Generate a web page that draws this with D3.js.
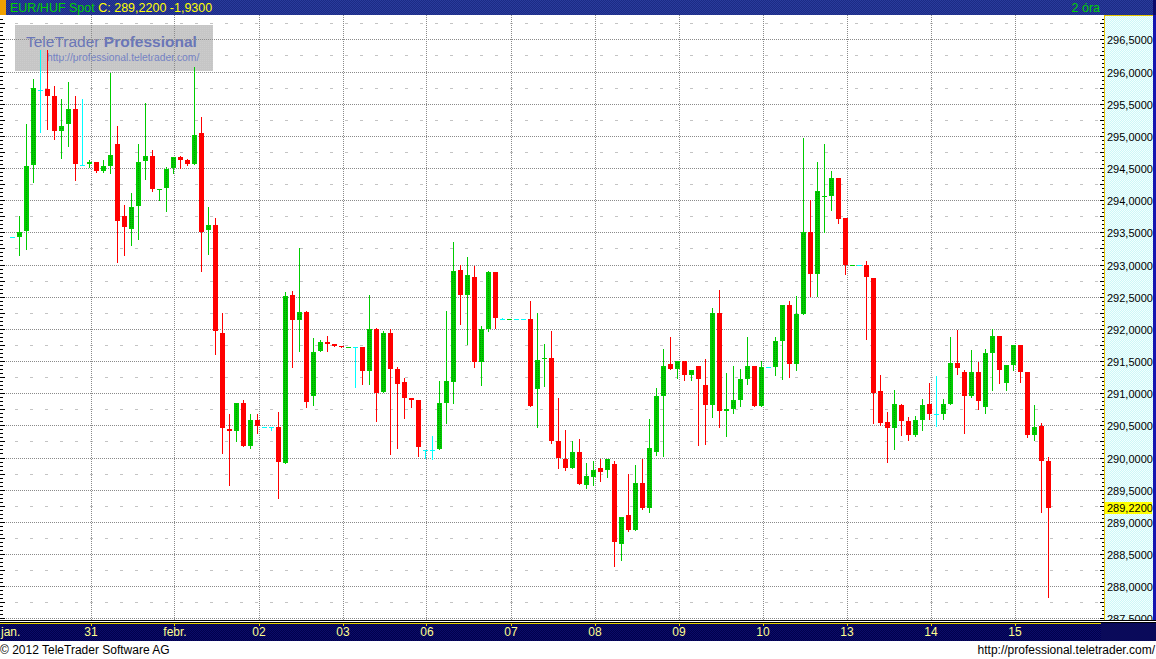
<!DOCTYPE html>
<html><head><meta charset="utf-8">
<script src="https://cdn.jsdelivr.net/npm/d3@7"></script>
<style>body{margin:0;background:#fff;overflow:hidden}svg{display:block}</style>
</head><body>
<svg id="c" width="1156" height="659"></svg>
<script>
// ---- data (2-hour candles, EUR/HUF) ----
const openP = [293.42,293.43,293.52,294.55,295.72,295.73,295.62,295.08,295.19,295.41,294.55,294.56,294.59,294.45,294.53,294.87,293.76,293.55,293.91,294.61,294.68,294.17,294.19,294.50,294.67,294.62,294.56,295.04,293.54,293.62,
291.94,290.45,290.41,290.84,290.18,290.59,290.48,290.48,290.48,289.91,292.53,292.13,292.26,290.95,291.65,291.80,291.77,291.74,291.71,291.72,291.72,291.35,291.99,291.02,291.94,291.38,291.18,290.93,290.90,290.12,
290.12,290.13,290.84,291.18,292.92,292.52,292.80,291.49,291.99,292.89,292.15,292.15,292.15,292.15,292.16,291.06,291.53,291.54,290.25,289.97,289.83,290.09,289.58,289.69,289.83,289.80,289.90,288.65,289.10,288.88,
289.61,289.22,290.08,290.95,291.46,291.37,291.50,291.28,291.42,291.12,290.81,292.24,290.73,290.75,290.89,291.22,291.42,290.80,291.40,291.40,291.81,292.37,291.45,292.23,293.51,292.85,294.06,294.07,294.35,293.73,
292.99,293.00,293.00,292.79,291.03,290.55,290.46,290.82,290.57,290.35,290.58,290.83,290.67,290.68,290.83,291.47,291.33,290.96,291.33,290.78,291.62,291.89,291.16,291.44,291.75,291.33,290.35,290.49,289.95];
const highP = [293.42,293.75,295.18,295.88,296.33,296.33,295.77,295.57,295.83,295.62,295.57,294.62,294.60,294.62,295.98,295.16,293.92,294.11,294.87,295.51,294.78,294.18,294.51,294.67,294.69,294.64,296.07,295.29,293.90,293.72,
292.25,290.68,290.84,290.90,290.67,290.67,290.48,290.48,290.70,292.58,292.59,293.26,292.28,291.85,291.83,291.89,291.77,291.74,291.72,291.72,291.72,292.53,292.02,291.97,291.99,291.40,291.24,290.93,290.90,290.12,
290.33,291.19,292.27,293.35,293.00,293.11,292.97,292.05,292.90,292.89,292.17,292.16,292.15,292.15,292.44,292.25,291.77,291.97,290.93,290.42,290.25,290.28,289.92,289.95,289.97,289.97,289.94,289.08,289.75,289.89,
289.97,290.60,291.08,291.68,291.88,291.50,291.50,291.36,291.42,291.53,292.33,292.60,291.31,291.43,291.37,291.87,291.43,291.50,291.40,291.87,292.37,292.44,292.51,294.97,294.00,294.59,294.88,294.46,294.35,293.73,
293.00,293.00,293.05,292.79,291.28,290.71,291.05,290.83,290.63,290.64,290.91,291.16,291.27,290.91,291.87,291.98,291.36,291.67,291.48,291.69,292.00,291.89,291.44,291.75,291.75,291.33,290.82,290.54,290.01];
const lowP = [293.42,293.14,293.24,294.28,295.06,295.10,294.95,294.66,294.84,294.31,294.55,294.51,294.44,294.44,294.42,293.04,293.14,293.30,293.40,294.33,294.14,294.01,293.83,294.42,294.50,294.54,294.56,292.90,293.16,291.61,
290.07,289.57,290.25,290.18,290.14,290.38,290.48,290.43,289.37,289.91,291.40,291.66,290.78,290.81,291.65,291.65,291.74,291.71,291.71,291.09,291.15,291.15,290.56,291.02,290.05,290.14,290.62,290.79,290.02,289.99,
289.97,290.13,290.54,290.84,292.08,291.77,291.40,291.13,291.96,292.02,292.15,292.15,292.15,292.15,290.80,290.48,291.11,290.23,289.83,289.80,289.83,289.59,289.53,289.58,289.64,289.69,288.32,288.40,288.85,288.88,
289.20,289.15,290.04,290.02,291.37,291.23,291.20,291.20,290.19,290.21,290.63,290.47,290.33,290.69,290.80,291.15,290.80,290.80,291.40,291.29,291.22,291.25,291.36,292.23,292.51,292.51,293.51,293.84,293.65,292.86,
292.99,293.00,291.84,290.54,290.51,289.93,290.13,290.35,290.27,290.33,290.43,290.60,290.49,290.60,290.83,291.30,290.38,290.94,290.75,290.69,291.05,291.16,291.05,291.36,291.17,290.32,290.27,289.15,287.83];
const closeP = [293.42,293.51,294.53,295.74,295.72,295.62,295.08,295.15,295.41,294.56,294.55,294.59,294.45,294.53,294.70,293.68,293.58,293.90,294.60,294.68,294.17,294.18,294.48,294.67,294.63,294.56,295.01,293.51,293.61,291.96,
290.46,290.41,290.84,290.18,290.59,290.49,290.48,290.48,289.93,292.51,292.13,292.26,290.87,291.64,291.80,291.77,291.74,291.71,291.72,291.72,291.35,291.99,291.01,291.94,291.38,291.15,290.93,290.90,290.16,290.12,
290.12,290.84,291.19,292.90,292.52,292.84,291.49,291.99,292.89,292.17,292.15,292.16,292.15,292.15,290.80,291.51,291.55,290.26,290.00,289.83,290.09,289.59,289.72,289.81,289.78,289.97,288.68,289.08,288.88,289.61,
289.22,290.15,290.95,291.43,291.37,291.50,291.28,291.36,291.22,290.81,292.24,290.73,290.75,290.89,291.22,291.42,290.80,291.40,291.40,291.81,292.37,291.45,292.23,293.51,292.85,294.15,294.07,294.35,293.70,292.99,
293.00,293.00,292.80,291.00,290.54,290.46,290.83,290.57,290.35,290.58,290.82,290.68,290.67,290.83,291.47,291.39,290.96,291.33,290.88,291.62,291.89,291.36,291.44,291.75,291.33,290.35,290.47,289.95,289.22];
const dayTickIndex = [-1, 11, 23, 35, 47, 59, 71, 83, 95, 107, 119, 131, 143];
const dayLabels = ["jan.","31","febr.","02","03","06","07","08","09","10","13","14","15"];
const yTicks = [287.5,288,288.5,289,289.5,290,290.5,291,291.5,292,292.5,293,293.5,294,294.5,295,295.5,296,296.5];
const lastPrice = 289.22;
const titleText = "EUR/HUF Spot";
const quoteText = "C: 289,2200 -1,9300";
const periodText = "2 óra";

// ---- layout ----
const W = 1156, H = 659;
const plotL = 0, plotR = 1101, plotT = 15, plotB = 620;
const axL = 1104, axR = 1153;
const svg = d3.select("#c");
const FONT = "'Liberation Sans', Arial, sans-serif";

const x = d3.scaleLinear().domain([0, 148]).range([12.5, 1048.5]);
const y = d3.scaleLinear().domain([290, 296]).range([457.5, 71.5]);
const loc = d3.formatLocale({decimal: ",", thousands: ".", grouping: [3], currency: ["", ""]});
const fmt = loc.format(".4f");

// ---- defs ----
const defs = svg.append("defs");
function checker(id, a, b) {
  const p = defs.append("pattern").attr("id", id).attr("patternUnits", "userSpaceOnUse").attr("width", 2).attr("height", 2);
  p.append("rect").attr("width", 2).attr("height", 2).attr("fill", a);
  p.append("rect").attr("width", 1).attr("height", 1).attr("fill", b);
  p.append("rect").attr("x", 1).attr("y", 1).attr("width", 1).attr("height", 1).attr("fill", b);
}
checker("navyTop", "#1b2b84", "#2a3b9c");
checker("navyBot", "#00004c", "#0c0c68");
checker("cyanAx", "#cdf7f7", "#f2ffff");
{
  const p = defs.append("pattern").attr("id", "greenDot").attr("patternUnits", "userSpaceOnUse").attr("width", 2).attr("height", 2);
  p.append("rect").attr("width", 2).attr("height", 2).attr("fill", "#00cc00");
  p.append("rect").attr("width", 1).attr("height", 1).attr("fill", "#009a00");
}
{
  const p = defs.append("pattern").attr("id", "logoPat").attr("patternUnits", "userSpaceOnUse").attr("width", 2).attr("height", 2);
  p.append("rect").attr("width", 2).attr("height", 2).attr("fill", "#c6c6c6");
  p.append("rect").attr("width", 1).attr("height", 1).attr("fill", "#cccccc");
}

// ---- backgrounds ----
svg.append("rect").attr("x", 0).attr("y", 0).attr("width", W).attr("height", H).attr("fill", "#ffffff");
svg.append("rect").attr("x", 0).attr("y", 0).attr("width", W).attr("height", 15).attr("fill", "url(#navyTop)");
svg.append("rect").attr("x", 0).attr("y", 0).attr("width", 6).attr("height", 15).attr("fill", "#f0a000");
svg.append("rect").attr("x", 1153).attr("y", 0).attr("width", 3).attr("height", 15).attr("fill", "#0a0a6a");

const header = svg.append("text").attr("x", 10).attr("y", 12).attr("font-family", FONT).attr("font-size", 12.5);
header.append("tspan").attr("fill", "#00d000").text(titleText + " ");
header.append("tspan").attr("fill", "#ffff00").text(quoteText);
svg.append("text").attr("x", 1100).attr("y", 12).attr("text-anchor", "end").attr("font-family", FONT)
  .attr("font-size", 12.5).attr("fill", "#00d000").text(periodText);

// logo
const logo = svg.append("g");
logo.append("rect").attr("x", 15).attr("y", 25).attr("width", 198).attr("height", 46).attr("fill", "url(#logoPat)");
const lt = logo.append("text").attr("x", 26).attr("y", 47).attr("font-family", FONT).attr("font-size", 15.5).attr("fill", "#6a76b8");
lt.append("tspan").text("TeleTrader ");
lt.append("tspan").attr("font-weight", "bold").text("Professional");
logo.append("text").attr("x", 47).attr("y", 61).attr("font-family", FONT).attr("font-size", 10.3).attr("fill", "#7482c4")
  .text("http://professional.teletrader.com/");

// ---- grid ----
const grid = svg.append("g").attr("shape-rendering", "crispEdges");
const minorVals = yTicks.map(v => v + 0.25).concat([287.25]).filter(v => y(v) > plotT && y(v) < plotB);
grid.selectAll("line.minor").data(minorVals).join("line")
  .attr("x1", plotL).attr("x2", plotR).attr("y1", d => Math.round(y(d)) + 0.5).attr("y2", d => Math.round(y(d)) + 0.5)
  .attr("stroke", "#c4c4c4").attr("stroke-dasharray", "3,12");
grid.selectAll("line.major").data(yTicks).join("line")
  .attr("x1", plotL).attr("x2", plotR).attr("y1", d => Math.round(y(d)) + 0.5).attr("y2", d => Math.round(y(d)) + 0.5)
  .attr("stroke", "#8a8a8a").attr("stroke-dasharray", "1,1");
grid.selectAll("line.vday").data(dayTickIndex.filter(i => i >= 0)).join("line")
  .attr("x1", d => Math.round(x(d)) + 1.5).attr("x2", d => Math.round(x(d)) + 1.5)
  .attr("y1", plotT).attr("y2", plotB).attr("stroke", "#8a8a8a").attr("stroke-dasharray", "1,1");

// left edge ticks
const fineTicks = d3.range(0, 160).map(k => 287.0 + k / 16).filter(v => y(v) > plotT + 1 && y(v) < plotB);
const isQuarter = d => Math.abs((d * 4) - Math.round(d * 4)) < 1e-6;
grid.selectAll("line.lt").data(fineTicks).join("line")
  .attr("x1", 0).attr("x2", d => isQuarter(d) ? 5 : 3)
  .attr("y1", d => Math.round(y(d)) + 0.5).attr("y2", d => Math.round(y(d)) + 0.5).attr("stroke", "#000");

// ---- candles ----
const data = openP.map((o, i) => ({i, o, h: highP[i], l: lowP[i], c: closeP[i]}));
const col = d => d.c > d.o ? "#00cc00" : (d.c < d.o ? "#ff0000" : "#00ffff");
const cg = svg.append("g").attr("shape-rendering", "crispEdges");
const candle = cg.selectAll("g").data(data).join("g");
candle.append("rect")
  .attr("x", d => x(d.i) - 0.5).attr("width", 1)
  .attr("y", d => Math.round(y(d.h)))
  .attr("height", d => Math.max(1, Math.round(y(d.l)) - Math.round(y(d.h)) + 1))
  .attr("fill", col);
candle.append("rect")
  .attr("x", d => x(d.i) - 2.5).attr("width", 5)
  .attr("y", d => Math.round(y(Math.max(d.o, d.c))))
  .attr("height", d => Math.max(1, Math.round(y(Math.min(d.o, d.c))) - Math.round(y(Math.max(d.o, d.c)))))
  .attr("fill", col);
candle.filter(d => d.c > d.o && (y(d.o) - y(d.c)) > 3).append("rect")
  .attr("x", d => x(d.i) - 1.5).attr("width", 3)
  .attr("y", d => Math.round(y(d.c)) + 1)
  .attr("height", d => Math.max(0, Math.round(y(d.o)) - Math.round(y(d.c)) - 2))
  .attr("fill", "url(#greenDot)");

// ---- right axis panel ----
svg.append("rect").attr("x", axL).attr("y", plotT).attr("width", axR - axL).attr("height", plotB - plotT).attr("fill", "url(#cyanAx)");
svg.append("rect").attr("x", axR).attr("y", plotT).attr("width", W - axR).attr("height", plotB - plotT).attr("fill", "#1515b0");
const ax = svg.append("g").attr("shape-rendering", "crispEdges");
ax.append("line").attr("x1", axL + 0.5).attr("x2", axL + 0.5).attr("y1", plotT).attr("y2", plotB).attr("stroke", "#e6c200");
ax.append("line").attr("x1", axL).attr("x2", axR).attr("y1", plotT + 0.5).attr("y2", plotT + 0.5).attr("stroke", "#e6c200");
ax.selectAll("line.rt").data(fineTicks).join("line")
  .attr("x1", d => isQuarter(d) ? axL - 4 : axL - 2).attr("x2", axL)
  .attr("y1", d => Math.round(y(d)) + 0.5).attr("y2", d => Math.round(y(d)) + 0.5).attr("stroke", "#000");
svg.append("g").selectAll("text").data(yTicks).join("text")
  .attr("x", axL + 3).attr("y", d => Math.round(y(d)) + 4.5)
  .attr("font-family", FONT).attr("font-size", 11).attr("fill", "#000").text(d => fmt(d));
// last price marker
svg.append("rect").attr("x", axL + 1).attr("y", Math.round(y(lastPrice)) - 6).attr("width", 47).attr("height", 12).attr("fill", "#ffff00");
svg.append("text").attr("x", axL + 3).attr("y", Math.round(y(lastPrice)) + 4)
  .attr("font-family", FONT).attr("font-size", 11).attr("fill", "#000").text(fmt(lastPrice));

// ---- x axis bar ----
const xb = svg.append("g").attr("shape-rendering", "crispEdges");
xb.append("rect").attr("x", 0).attr("y", 620).attr("width", W).attr("height", 1).attr("fill", "#000");
xb.append("rect").attr("x", 0).attr("y", 621).attr("width", W).attr("height", 1).attr("fill", "#ffffff");
xb.append("rect").attr("x", 0).attr("y", 622).attr("width", W).attr("height", 1).attr("fill", "#000");
xb.append("rect").attr("x", 0).attr("y", 623).attr("width", W).attr("height", 18).attr("fill", "url(#navyBot)");
xb.append("rect").attr("x", 0).attr("y", 623).attr("width", 1101).attr("height", 1).attr("fill", "#e6d200");
xb.append("rect").attr("x", 1101).attr("y", 623).attr("width", 55).attr("height", 18).attr("fill", "#0a0a5a");
xb.selectAll("rect.tk").data(dayTickIndex.filter(i => i >= 0)).join("rect")
  .attr("x", d => Math.round(x(d)) + 1).attr("y", 623).attr("width", 1).attr("height", 3).attr("fill", "#e6d200");
svg.append("g").selectAll("text").data(dayTickIndex).join("text")
  .attr("x", d => x(d) < 20 ? 1 : x(d) + 1.5)
  .attr("text-anchor", d => x(d) < 20 ? "start" : "middle")
  .attr("y", 636).attr("font-family", FONT).attr("font-size", 12).attr("fill", "#ffff90")
  .text((d, k) => dayLabels[k]);

// ---- footer ----
svg.append("text").attr("x", 0).attr("y", 654).attr("font-family", FONT).attr("font-size", 12).attr("fill", "#000")
  .text("© 2012 TeleTrader Software AG");
svg.append("text").attr("x", 1155).attr("y", 654).attr("text-anchor", "end").attr("font-family", FONT).attr("font-size", 12).attr("fill", "#000")
  .text("http://professional.teletrader.com/");
</script>
</body></html>
